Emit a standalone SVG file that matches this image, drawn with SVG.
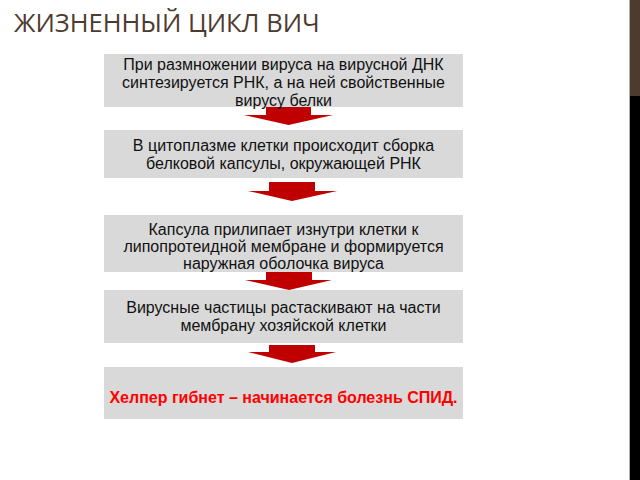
<svg xmlns="http://www.w3.org/2000/svg" width="640" height="480" viewBox="0 0 640 480">
<style>
.box{fill:#d9d9d9;}
.t{font-family:"Liberation Sans",Arial,sans-serif;font-size:16px;fill:#111;text-anchor:middle;}
.r{font-family:"Liberation Sans",Arial,sans-serif;font-size:16px;font-weight:bold;fill:#ff0000;text-anchor:middle;}
.arr{fill:#c00000;}
.title{font-family:"Open Sans","DejaVu Sans",sans-serif;font-size:25.5px;fill:#4e3b30;}
</style>
<rect x="0" y="0" width="640" height="480" fill="#ffffff"/>
<rect x="629" y="0" width="1" height="480" fill="#b0b0b0"/>
<rect x="630" y="0" width="10" height="96" fill="#4e3b30"/>
<rect x="630" y="96" width="10" height="384" fill="#000000"/>
<text id="title" class="title" x="14" y="32">ЖИЗНЕННЫЙ ЦИКЛ ВИЧ</text>
<g id="connectors">
<polygon class="arr" points="266,107 311,107 311,115 333,115 288.5,125 244,115 266,115"/>
<polygon class="arr" points="269,182 315,182 315,191 337,191 292,201 248,191 269,191"/>
<polygon class="arr" points="266,272 312,272 312,280 332,280 289,290 245,280 266,280"/>
<polygon class="arr" points="269,345 315,345 315,352 336,352 292,363 248,352 269,352"/>
</g>
<g id="node1">
<rect class="box" x="104" y="54" width="359" height="53"/>
<text class="t" x="283.5" y="70">При размножении вируса на вирусной ДНК</text>
<text class="t" x="283.5" y="88">синтезируется РНК, а на ней свойственные</text>
<text class="t" x="283.5" y="106">вирусу белки</text>
</g>
<g id="node2">
<rect class="box" x="104" y="130" width="359" height="48"/>
<text class="t" x="283.5" y="151">В цитоплазме клетки происходит сборка</text>
<text class="t" x="283.5" y="169">белковой капсулы, окружающей РНК</text>
</g>
<g id="node3">
<rect class="box" x="104" y="215" width="359" height="57"/>
<text class="t" x="283.5" y="235">Капсула прилипает изнутри клетки к</text>
<text class="t" x="283.5" y="252">липопротеидной мембране и формируется</text>
<text class="t" x="283.5" y="269">наружная оболочка вируса</text>
</g>
<g id="node4">
<rect class="box" x="104" y="290" width="359" height="53"/>
<text class="t" x="283.5" y="313">Вирусные частицы растаскивают на части</text>
<text class="t" x="283.5" y="331">мембрану хозяйской клетки</text>
</g>
<g id="node5">
<rect class="box" x="104" y="367" width="359" height="52"/>
<text class="r" x="283.5" y="403">Хелпер гибнет – начинается болезнь СПИД.</text>
</g>
</svg>
